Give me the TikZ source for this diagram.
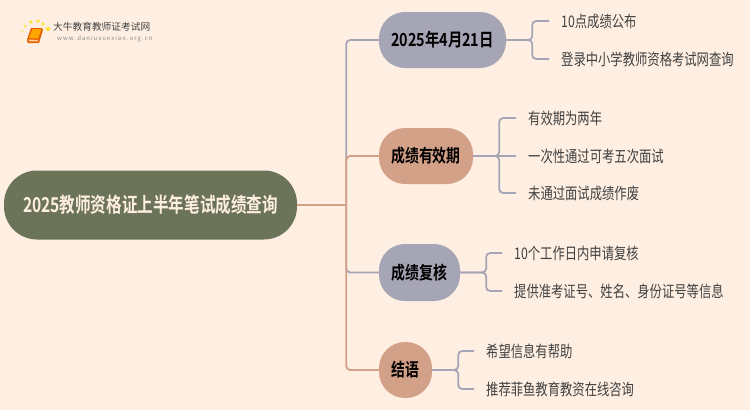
\documentclass[tikz,border=0pt]{standalone}
\usepackage{fontspec}
\usepackage{graphicx}
\setmainfont{Noto Sans CJK SC}
\newfontfamily\cjkb{Noto Sans CJK SC Bold}
\usetikzlibrary{calc}
\definecolor{bgc}{HTML}{FFEFE2}
\definecolor{rootc}{HTML}{6B7358}
\definecolor{bluec}{HTML}{A6A5B6}
\definecolor{orc}{HTML}{D3A187}
\definecolor{txt}{HTML}{404040}
\tikzset{
  x=1pt,y=-1pt,
  topic/.style={draw=none,rounded corners=26pt,inner sep=0pt,text=black,font=\cjkb\fontsize{18}{18}\selectfont},
  leaf/.style={anchor=west,inner xsep=12pt,inner ysep=0pt,text=txt,font=\fontsize{16}{16}\selectfont},
  conn/.style={line width=1.8pt,rounded corners=4pt,draw=#1},
}
\newcommand{\sq}[1]{\scalebox{.77}[1]{#1}}
\begin{document}
\begin{tikzpicture}
\useasboundingbox (0,0) rectangle (750,410);
\fill[bgc] (0,0) rectangle (750,410);
% logo
\foreach \a/\b/\r in {23/41/.7,22/31/1,25/26/1.4,31/22/1.8,38/21/1.8,43/24/1.8,48/29/2.3}
  \fill[yellow!85!orange,opacity=.75] (\a,\b) circle (\r);
\fill[orange!85!red!90!black] (27,41) -- (27.5,38) -- (31,28) -- (42,28) -- (43,30) -- (39,43) -- (28,43) -- cycle;
\fill[orange!70!yellow] (29,38) -- (32.5,29) -- (41.5,29) -- (38,38.5) -- cycle;
\fill[bgc!70!orange] (28.5,39.5) -- (38,40) -- (37.5,41.5) -- (28.5,41.2) -- cycle;
\node[anchor=west,inner sep=0pt,text=black!75,font=\fontsize{9.7}{11}\selectfont] (logoa) at (53,27) {大牛教育教师证考试网};
\node[anchor=west,inner sep=0pt,text=black!45,font=\fontsize{6}{7}\selectfont] (logob) at (57,39) {w\,w\,w\,.\,d\,a\,n\,i\,u\,x\,u\,e\,x\,i\,a\,o\,.\,o\,r\,g\,.\,c\,n};
% nodes
\node[topic,fill=rootc,text=bgc,minimum width=293pt,minimum height=69pt,rounded corners=33pt,font=\cjkb\fontsize{20.5}{21}\selectfont] (root) at (150.5,205) {\scalebox{.76}[1]{2025教师资格证上半年笔试成绩查询}};
\node[topic,fill=bluec,minimum width=127pt,minimum height=56pt] (A) at (442.5,40) {\scalebox{.8}[1]{2025年4月21日}};
\node[topic,fill=orc,minimum width=94pt,minimum height=56pt] (B) at (426,156) {\sq{成绩有效期}};
\node[topic,fill=bluec,minimum width=81pt,minimum height=57pt] (C) at (419.5,272.5) {\sq{成绩复核}};
\node[topic,fill=orc,minimum width=53pt,minimum height=56pt] (D) at (405.5,370) {\sq{结语}};
\node[leaf] (a1) at (549,21) {\sq{10点成绩公布}};
\node[leaf] (a2) at (549,59) {\sq{登录中小学教师资格考试网查询}};
\node[leaf] (b1) at (516,118) {\sq{有效期为两年}};
\node[leaf] (b2) at (516,156) {\sq{一次性通过可考五次面试}};
\node[leaf] (b3) at (516,193) {\sq{未通过面试成绩作废}};
\node[leaf] (c1) at (502,253) {\sq{10个工作日内申请复核}};
\node[leaf] (c2) at (502,291) {\sq{提供准考证号、姓名、身份证号等信息}};
\node[leaf] (d1) at (474,351) {\sq{希望信息有帮助}};
\node[leaf] (d2) at (474,389) {\sq{推荐菲鱼教育教资在线咨询}};
% trunk connectors
\coordinate (tr) at ($(root.east)+(49,0)$);
\draw[conn=bluec] (tr) |- (A.west);
\draw[conn=bluec] (tr) |- (C.west);
\draw[conn=orc] (root.east) -- (tr);
\draw[conn=orc] (tr) |- (B.west);
\draw[conn=orc] (tr) |- (D.west);
% leaf connectors
\foreach \p/\q in {A/a1,A/a2,B/b1,B/b3,C/c1,C/c2,D/d1,D/d2}
  \draw[conn=bluec] (\p.east) -- ++(26,0) |- (\q.west);
\draw[conn=bluec] (B.east) -- (b2.west);
\end{tikzpicture}
\end{document}
